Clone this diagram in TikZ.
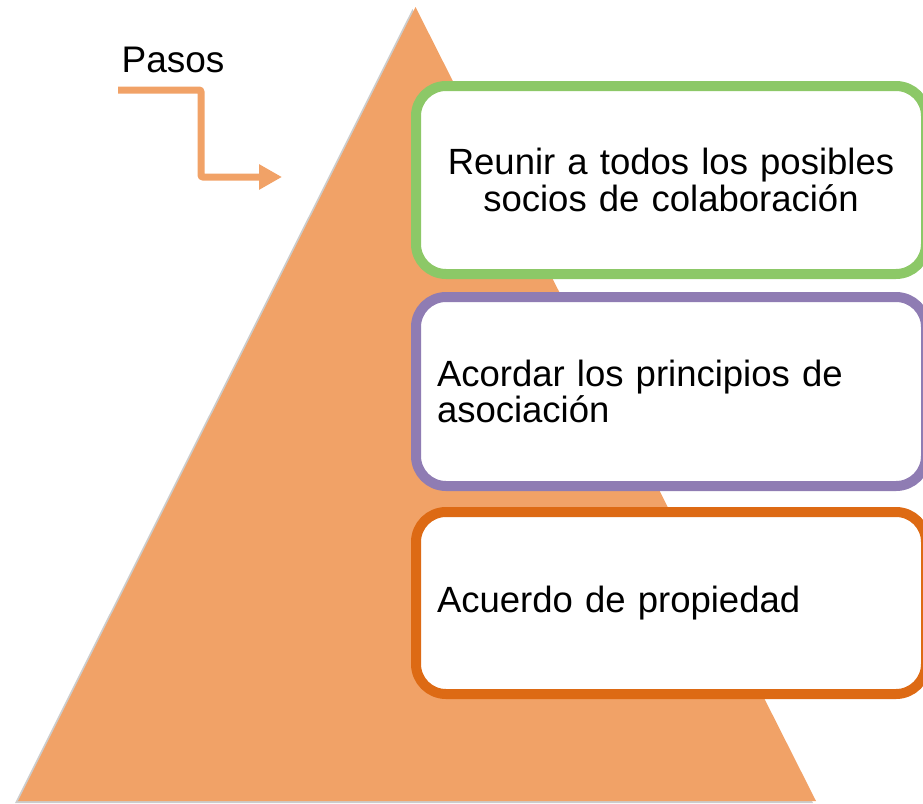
\documentclass[tikz,border=0pt]{standalone}
\usepackage{fontspec}
\setmainfont{Liberation Sans}
\usetikzlibrary{arrows.meta, shadows}

\definecolor{pyramid}{HTML}{F1A267}
\definecolor{stepgreen}{HTML}{8CC867}
\definecolor{steppurple}{HTML}{8F7CB3}
\definecolor{steporange}{HTML}{DD6A14}

\begin{document}
\begin{tikzpicture}[x=1pt, y=-1pt,
    stepbox/.style={rounded corners=30pt, draw, line width=10pt, fill=white,
        minimum width=510pt, text width=468pt, inner sep=21pt,
        font=\fontsize{36.5}{36.5}\selectfont}]
    \useasboundingbox (0, 0) rectangle (923, 803);
    \clip (0, 0) rectangle (923, 803);
    \fill[pyramid, drop shadow={shadow xshift=-3pt, shadow yshift=-2pt, opacity=0.4}]
        (415.5, 7) -- (18, 801) -- (816, 801) -- cycle;
    \node[stepbox, draw=stepgreen, minimum height=188pt, align=center] (0) at (671, 180) {Reunir a todos los posibles\\socios de colaboración};
    \node[stepbox, draw=steppurple, minimum height=189pt, align=left] (1) at (671, 391.5) {Acordar los principios de\\asociación};
    \node[stepbox, draw=steporange, minimum height=182pt, align=left] (2) at (671, 603) {Acuerdo de propiedad};
	\node[font=\fontsize{37}{41}\selectfont] (3) at (173, 60) {Pasos};
    \coordinate (4) at (118, 90);
    \coordinate (5) at (282, 177);
    \draw[pyramid, line width=7pt, rounded corners=2pt, -{Triangle[width=24pt, length=23pt]}]
        (4) -- ++(83, 0) |- (5);
\end{tikzpicture}
\end{document}
